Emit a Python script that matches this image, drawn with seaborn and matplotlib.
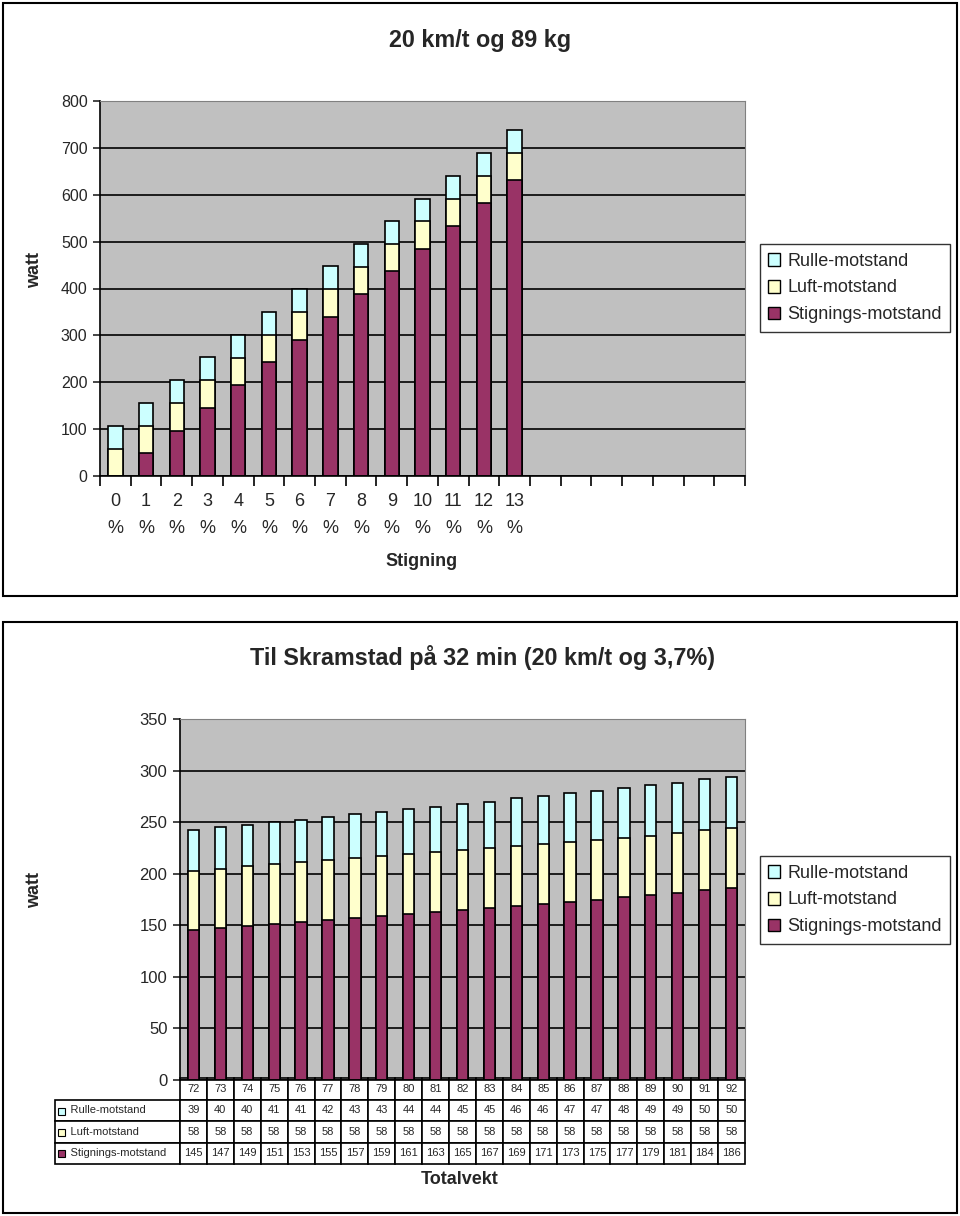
import pandas as pd
import matplotlib
matplotlib.use("Agg")
import matplotlib.pyplot as plt
from matplotlib.patches import Rectangle, Patch
from matplotlib.table import Table
import seaborn as sns

# --- data: top chart (20 km/t, 89 kg) ---
grade_labels = ["0\n%", "1\n%", "2\n%", "3\n%", "4\n%", "5\n%", "6\n%",
                "7\n%", "8\n%", "9\n%", "10\n%", "11\n%", "12\n%", "13\n%"]
top_stig = [0, 49, 97, 146, 194, 243, 291, 340, 388, 437, 485, 534, 582, 631]
top_luft = [58, 58, 58, 58, 58, 58, 58, 58, 58, 58, 58, 58, 58, 58]
top_rulle = [49, 49, 49, 49, 49, 49, 49, 49, 49, 49, 49, 49, 49, 49]

# --- data: bottom chart (Til Skramstad) ---
weights = [72, 73, 74, 75, 76, 77, 78, 79, 80, 81, 82, 83, 84, 85, 86, 87, 88, 89, 90, 91, 92]
bot_rulle = [39, 40, 40, 41, 41, 42, 43, 43, 44, 44, 45, 45, 46, 46, 47, 47, 48, 49, 49, 50, 50]
bot_luft = [58, 58, 58, 58, 58, 58, 58, 58, 58, 58, 58, 58, 58, 58, 58, 58, 58, 58, 58, 58, 58]
bot_stig = [145, 147, 149, 151, 153, 155, 157, 159, 161, 163, 165, 167, 169, 171, 173, 175, 177, 179, 181, 184, 186]

series_names = ["Rulle-motstand", "Luft-motstand", "Stignings-motstand"]
c_rulle, c_luft, c_stig = "#CCFFFF", "#FFFFCC", "#993366"

sns.set_style("ticks")
plt.rcParams['font.family'] = ['Liberation Sans', 'DejaVu Sans']

W, H = 960, 1216
fig = plt.figure(figsize=(9.6, 12.16), dpi=100)


def fx(px):
    return px / W


def fy(py):
    return 1 - py / H


def stacked(ax, cats, stig, luft, rulle, width):
    df = pd.DataFrame({"cat": cats, "stig": stig, "luft": luft, "rulle": rulle})
    df["s2"] = df["stig"] + df["luft"]
    df["s3"] = df["s2"] + df["rulle"]
    common = dict(x="cat", order=cats, width=width, saturation=1,
                  edgecolor="black", linewidth=1.2, ax=ax, errorbar=None)
    sns.barplot(data=df, y="s3", color=c_rulle, **common)
    sns.barplot(data=df, y="s2", color=c_luft, **common)
    sns.barplot(data=df, y="stig", color=c_stig, **common)


def style_axes(ax, ymax, ystep, fs):
    ax.set_facecolor("#C0C0C0")
    ax.set_ylim(0, ymax)
    ax.set_yticks(range(0, ymax + 1, ystep))
    ax.yaxis.grid(True, color="black", linewidth=1.2)
    ax.set_axisbelow(True)
    for s in ["top", "right"]:
        ax.spines[s].set_color("#808080")
    for s in ["left", "bottom"]:
        ax.spines[s].set_color("black")
        ax.spines[s].set_linewidth(1.2)
    ax.tick_params(axis="y", length=5, width=1.2, labelsize=fs, pad=4)
    ax.set_xlabel("")
    ax.set_ylabel("")


def legend_at(cy):
    handles = [Patch(facecolor=c, edgecolor="black", label=n)
               for c, n in zip([c_rulle, c_luft, c_stig], series_names)]
    fig.legend(handles=handles, loc="center", bbox_to_anchor=(fx(855), fy(cy)),
               fontsize=13, frameon=True, fancybox=False, edgecolor="black",
               handlelength=0.7, handleheight=0.7, handletextpad=0.4,
               labelspacing=0.55, borderpad=0.45, borderaxespad=0)


# panel borders
fig.add_artist(Rectangle((fx(3), fy(596)), fx(954), 593 / H, transform=fig.transFigure,
                         fill=False, edgecolor="black", linewidth=1.5))
fig.add_artist(Rectangle((fx(3), fy(1213)), fx(954), 591 / H, transform=fig.transFigure,
                         fill=False, edgecolor="black", linewidth=1.5))

# ---------- top chart ----------
ax1 = fig.add_axes([fx(100), fy(476), fx(645), 375 / H])
stacked(ax1, grade_labels, top_stig, top_luft, top_rulle, 0.47)
style_axes(ax1, 800, 100, 11.5)
ax1.set_xlim(-0.5, 20.5)
ax1.set_xticks(range(len(grade_labels)))
ax1.set_xticklabels(grade_labels, fontsize=13, linespacing=1.8)
ax1.tick_params(axis="x", which="major", length=0, pad=12)
ax1.set_xticks([i - 0.5 for i in range(22)], minor=True)
ax1.tick_params(axis="x", which="minor", length=7, width=1.2, direction="out", color="black")
fig.text(fx(480), fy(40), "20 km/t og 89 kg", ha="center", va="center",
         fontsize=16.8, fontweight="bold")
fig.text(fx(35), fy(270), "watt", ha="center", va="center", rotation=90,
         fontsize=13, fontweight="bold")
fig.text(fx(422), fy(562), "Stigning", ha="center", va="center",
         fontsize=13, fontweight="bold")
legend_at(288)

# ---------- bottom chart ----------
ax2 = fig.add_axes([fx(180), fy(1080), fx(565), 361 / H])
wlabels = [str(w) for w in weights]
stacked(ax2, wlabels, bot_stig, bot_luft, bot_rulle, 0.42)
style_axes(ax2, 350, 50, 12)
ax2.set_xlim(-0.5, len(weights) - 0.5)
ax2.set_xticks([])
fig.text(fx(482), fy(658), "Til Skramstad på 32 min (20 km/t og 3,7%)", ha="center",
         va="center", fontsize=16.8, fontweight="bold")
fig.text(fx(35), fy(890), "watt", ha="center", va="center", rotation=90,
         fontsize=13, fontweight="bold")
fig.text(fx(460), fy(1180), "Totalvekt", ha="center", va="center",
         fontsize=13, fontweight="bold")
legend_at(900)

# data table under the bottom chart
ax_w = 565.0
lab_w = 125.0
col_w = ax_w / len(weights)
tbl_left = -lab_w / ax_w
tbl_h = 86.0 / 361
tbl = Table(ax2, bbox=[tbl_left, -tbl_h + 2.0 / 361, 1 - tbl_left, tbl_h])
rows = [[""] + wlabels,
        ["    " + series_names[0]] + [str(v) for v in bot_rulle],
        ["    " + series_names[1]] + [str(v) for v in bot_luft],
        ["    " + series_names[2]] + [str(v) for v in bot_stig]]
for r, row in enumerate(rows):
    for c, val in enumerate(row):
        cell = tbl.add_cell(r, c, width=(lab_w if c == 0 else col_w), height=1.0,
                            text=val, loc=("left" if c == 0 else "center"),
                            facecolor="white", edgecolor="black")
        cell.set_linewidth(1.2)
        if c == 0:
            cell.PAD = 0.02
        if r == 0 and c == 0:
            cell.visible_edges = ""
tbl.auto_set_font_size(False)
tbl.set_fontsize(8)
ax2.add_table(tbl)

# legend keys in the table row labels
for i, col in enumerate([c_rulle, c_luft, c_stig]):
    cy = 1111 + i * 21
    fig.add_artist(Rectangle((fx(58), fy(cy + 3.5)), fx(7), 7 / H, transform=fig.transFigure,
                             facecolor=col, edgecolor="black", linewidth=0.8))

fig.savefig("out.png", dpi=100)
